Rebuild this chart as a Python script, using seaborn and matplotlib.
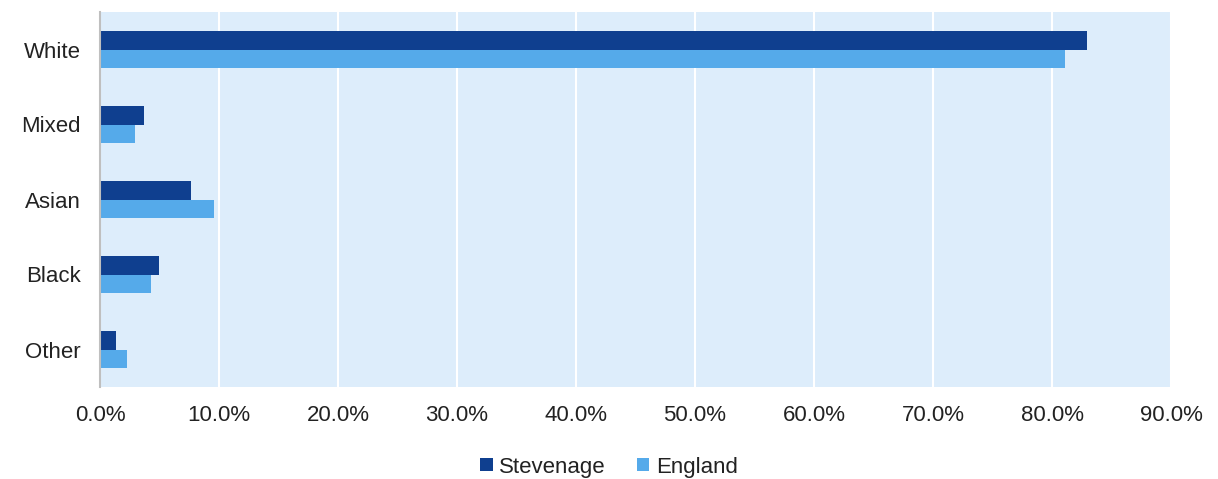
import matplotlib
matplotlib.use("Agg")
import matplotlib.pyplot as plt
import seaborn as sns
import pandas as pd
from matplotlib.ticker import FuncFormatter, MultipleLocator
from matplotlib.patches import Patch

categories = ["White", "Mixed", "Asian", "Black", "Other"]
stevenage = [82.9, 3.7, 7.65, 4.95, 1.35]
england = [81.1, 2.95, 9.6, 4.25, 2.25]
series = ["Stevenage", "England"]
colors = ["#0f3f8f", "#55aaea"]

df = pd.DataFrame({
    "category": categories * 2,
    "value": stevenage + england,
    "series": [series[0]] * len(categories) + [series[1]] * len(categories),
})

sns.set_theme(style="white")
plt.rcParams["font.family"] = ["Liberation Sans", "DejaVu Sans"]

fig = plt.figure(figsize=(12.18, 4.79), dpi=100)
ax = fig.add_axes([100/1218, 1 - 387/479, (1171-100)/1218, (387-12)/479])
ax.set_facecolor("#ddedfb")

sns.barplot(data=df, y="category", x="value", hue="series", order=categories,
            hue_order=series, palette=colors, width=0.5, orient="h",
            saturation=1, ax=ax, legend=False, edgecolor="none")

ax.set_xlim(0, 90)
ax.set_ylim(4.5, -0.5)
ax.xaxis.set_major_locator(MultipleLocator(10))
ax.xaxis.set_major_formatter(FuncFormatter(lambda v, p: f"{v:.1f}%"))
ax.grid(axis="x", color="white", linewidth=1.5)
ax.set_axisbelow(True)
for s in ["top", "right", "bottom"]:
    ax.spines[s].set_visible(False)
ax.spines["left"].set_color("#bfbfbf")
ax.spines["left"].set_linewidth(1.5)
ax.tick_params(axis="both", length=0, labelsize=16, colors="#222222")
ax.tick_params(axis="x", pad=13)
ax.tick_params(axis="y", pad=14)
ax.set_xlabel("")
ax.set_ylabel("")

handles = [Patch(facecolor=c, edgecolor="none") for c in colors]
fig.legend(handles, series, loc="center", bbox_to_anchor=(0.5, 1 - 467/479),
           ncol=2, frameon=False, fontsize=16, handlelength=0.55, handleheight=0.55,
           handletextpad=0.3, columnspacing=1.4, labelcolor="#222222")

fig.savefig("out.png", dpi=100)
